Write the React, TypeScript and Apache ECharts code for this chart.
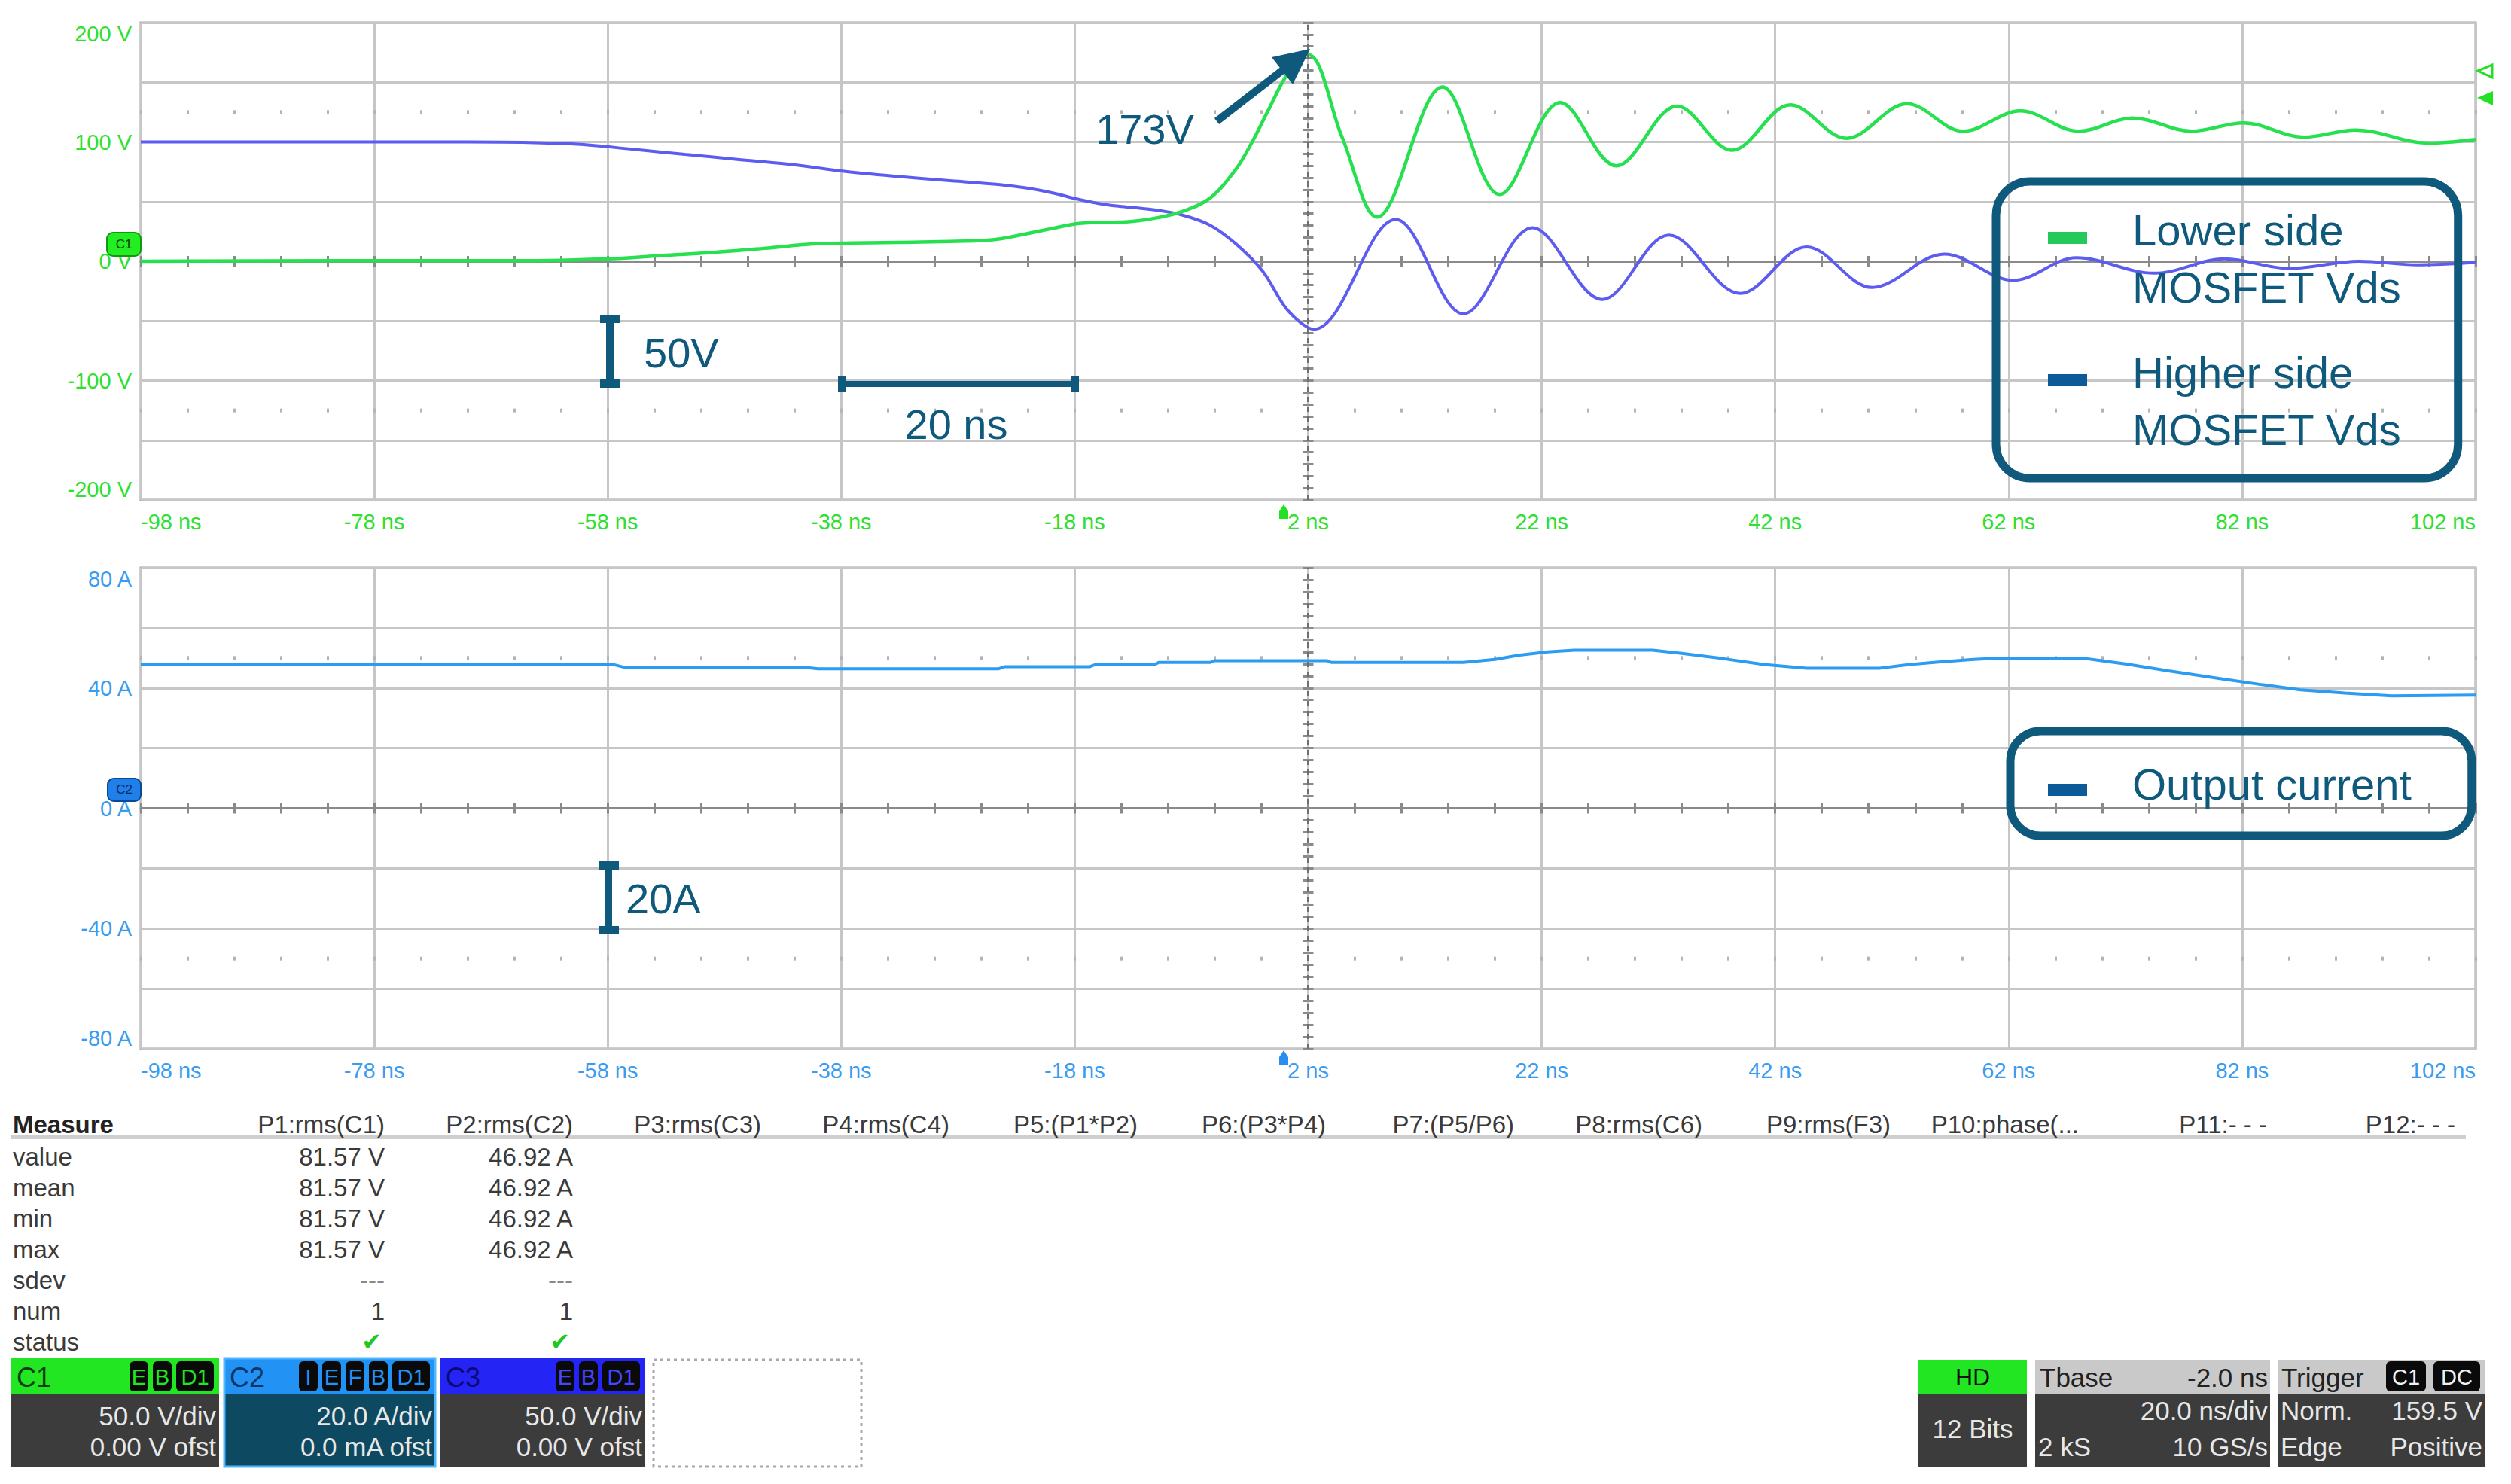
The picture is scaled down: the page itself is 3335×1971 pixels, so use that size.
import React, { useEffect, useRef } from 'react';
import * as echarts from 'echarts';

// ---------- data (time in ns, read from the scope capture) ----------
const T_OFFSET = 98; // the time axis starts at -98 ns
const CENTER_T = 2; // trigger / centre line at 2 ns

const lowSideTimes = [-98, -80, -65, -58, -53.6, -49.1, -44.6, -40.1, -33.4, -26.6, -24.4, -22.2, -19.9, -17.6, -13.2, -10.9, -8.7, -6.4, -4.2, -2.8, -1.5, 0.3, 2, 4.9, 7.9, 13.5, 18.4, 23.6, 28.4, 33.6, 38.3, 43.3, 48.1, 53.3, 58.1, 63, 68, 72.6, 77.7, 82.1, 87.3, 91.7, 98, 102];
const lowSideVolts = [0, 0.5, 0.5, 2, 4.6, 7.3, 10.8, 14.6, 15.8, 17.1, 18.8, 22.9, 27.5, 31.7, 33.3, 36.5, 42, 53, 77, 100, 125, 158, 173, 104, 37, 146, 56, 133, 80, 130, 93, 131, 103, 132, 109, 126, 109, 120, 109, 116, 104, 110, 99, 102];

const highSideTimes = [-98, -80, -70, -64.8, -60.3, -55.8, -51.4, -46.9, -42.4, -37.9, -33.4, -28.9, -24.4, -22.2, -19.9, -17.6, -15.4, -13.2, -10.9, -8.7, -6.4, -4.2, -1.9, 0.3, 2.5, 9.5, 15.3, 21.2, 27.2, 32.9, 39, 44.7, 50.3, 56.5, 62.4, 67.8, 74.5, 80.5, 86, 92, 97, 102];
const highSideVolts = [100, 100, 100, 99.6, 97.9, 93.8, 89.6, 85.4, 81.3, 75.6, 71.3, 67.7, 64.2, 61.5, 57.3, 51.7, 47.5, 45.2, 42.7, 38.5, 30.2, 14.6, -8.3, -41.7, -57, 35, -44, 28, -32, 22, -27, 12, -22, 6, -16, 3, -10, 2, -6, 0, -3, -1];

const currentTimes = [-98, -57.5, -56.5, -41, -40, -24.5, -24, -16.7, -16.3, -11.2, -10.8, -6.4, -6, 3.6, 4, 15.3, 18, 20, 22.5, 24.8, 31.5, 34, 37.5, 41, 44.7, 51, 53, 55.8, 59, 60.6, 68.6, 72, 75.7, 80, 83.7, 87, 90.8, 94.8, 102];
const currentAmps = [47.8, 47.8, 46.8, 46.8, 46.4, 46.4, 47.1, 47.1, 47.7, 47.7, 48.5, 48.5, 49.1, 49.1, 48.5, 48.5, 49.5, 50.9, 52, 52.6, 52.6, 51.5, 49.8, 47.8, 46.6, 46.6, 47.6, 48.6, 49.5, 49.8, 49.8, 48, 45.7, 43.2, 41.1, 39.4, 38.3, 37.4, 37.6];

const seriesNames = ['Lower side MOSFET Vds', 'Higher side MOSFET Vds', 'Output current'];

const measureHeaders = ['P1:rms(C1)', 'P2:rms(C2)', 'P3:rms(C3)', 'P4:rms(C4)', 'P5:(P1*P2)', 'P6:(P3*P4)', 'P7:(P5/P6)', 'P8:rms(C6)', 'P9:rms(F3)', 'P10:phase(...', 'P11:- - -', 'P12:- - -'];
const measureRows = ['value', 'mean', 'min', 'max', 'sdev', 'num', 'status'];
const p1Values = ['81.57 V', '81.57 V', '81.57 V', '81.57 V', '---', '1', '✔'];
const p2Values = ['46.92 A', '46.92 A', '46.92 A', '46.92 A', '---', '1', '✔'];

const channelBoxes = [
  { title: 'C1', badges: ['E', 'B', 'D1'], line1: '50.0 V/div', line2: '0.00 V ofst' },
  { title: 'C2', badges: ['I', 'E', 'F', 'B', 'D1'], line1: '20.0 A/div', line2: '0.0 mA ofst' },
  { title: 'C3', badges: ['E', 'B', 'D1'], line1: '50.0 V/div', line2: '0.00 V ofst' },
];

// ---------- styling ----------
const FONT = 'Liberation Sans, Arial, sans-serif';
const TEAL = '#0f5a7c';
const GREEN_TRACE = '#27e04f';
const GREEN_LABEL = '#2ee030';
const BLUE_TRACE = '#5c5cf0';
const CURRENT_TRACE = '#2c9cf2';
const CURRENT_LABEL = '#3a9cf0';
const GRID_LINE = '#c6c6c6';
const DARK_TICK = '#8a8a8a';

const G1 = { left: 187, top: 30, width: 3101, height: 634 };
const G2 = { left: 187, top: 754, width: 3101, height: 639 };

const toPairs = (ts: number[], vs: number[]) => ts.map((t, i) => [t + T_OFFSET, vs[i]]);

function mainX(gridIndex: number, color: string) {
  return {
    gridIndex, type: 'value', min: 0, max: 200, interval: 20, position: 'bottom',
    axisLine: { show: false, onZero: false }, axisTick: { show: false },
    splitLine: { show: true, lineStyle: { color: GRID_LINE, width: 3 } },
    axisLabel: {
      color, fontSize: 29, fontFamily: FONT, margin: 14, showMinLabel: true, showMaxLabel: true,
      alignMinLabel: 'left', alignMaxLabel: 'right',
      formatter: (v: number) => `${Math.round(v - T_OFFSET)} ns`,
    },
  };
}
function tickX(gridIndex: number, offset: number, opts: any) {
  return {
    gridIndex, type: 'value', min: 0, max: 200, interval: 4, position: 'bottom', offset,
    axisLine: { show: !!opts.line, onZero: false, lineStyle: { color: DARK_TICK, width: 3 } },
    axisTick: { show: true, inside: !!opts.inside, length: opts.len, lineStyle: { color: opts.color, width: 3 } },
    axisLabel: { show: false }, splitLine: { show: false },
  };
}
function mainY(gridIndex: number, min: number, max: number, interval: number, labelStep: number, unit: string, color: string) {
  return {
    gridIndex, type: 'value', min, max, interval, position: 'left',
    axisLine: { show: false, onZero: false }, axisTick: { show: false },
    splitLine: { show: true, lineStyle: { color: GRID_LINE, width: 3 } },
    axisLabel: {
      color, fontSize: 29, fontFamily: FONT, margin: 12, showMinLabel: true, showMaxLabel: true,
      verticalAlignMaxLabel: 'top', verticalAlignMinLabel: 'bottom',
      formatter: (v: number) => (Math.round(v) % labelStep === 0 ? `${Math.round(v)} ${unit}` : ''),
    },
  };
}
function tickY(gridIndex: number, offset: number, min: number, max: number, interval: number, inside: boolean) {
  return {
    gridIndex, type: 'value', min, max, interval, position: 'left', offset,
    axisLine: { show: false, onZero: false },
    axisTick: { show: true, inside, length: 7, lineStyle: { color: DARK_TICK, width: 3 } },
    axisLabel: { show: false }, splitLine: { show: false },
  };
}

const centerMarkLine = {
  silent: true, symbol: ['none', 'none'], label: { show: false },
  lineStyle: { color: '#6e6e6e', width: 3, type: [7, 6] },
  data: [{ xAxis: CENTER_T + T_OFFSET }],
};

// ---------- graphic helpers ----------
function txt(x: number, y: number, t: string, size: number, color: string, align = 'left', weight = 'normal', family = FONT) {
  return { type: 'text', x, y, z: 60, silent: true, style: { text: t, fill: color, fontSize: size, fontFamily: family, fontWeight: weight, align, verticalAlign: 'middle' } };
}
function box(x: number, y: number, w: number, h: number, fill: string, o: any = {}) {
  return { type: 'rect', z: o.z ?? 55, silent: true, shape: { x, y, width: w, height: h, r: o.r || 0 }, style: { fill, stroke: o.stroke || null, lineWidth: o.lw || 0, lineDash: o.dash || null } };
}
function badges(list: string[], right: number, top: number, color: string) {
  const out: any[] = [];
  let x = right;
  for (let i = list.length - 1; i >= 0; i--) {
    const w = list[i].length > 1 ? 50 : 25;
    x -= w;
    out.push(box(x, top, w, 40, '#0a0a0a', { r: 6, z: 57 }));
    out.push(txt(x + w / 2, top + 21, list[i], 29, color, 'center'));
    x -= 6;
  }
  return out;
}

function buildGraphics() {
  const els: any[] = [];
  // annotations
  els.push(txt(1455, 171, '173V', 56, TEAL));
  els.push({ type: 'line', z: 60, silent: true, shape: { x1: 1616, y1: 161, x2: 1705, y2: 92 }, style: { stroke: TEAL, lineWidth: 10 } });
  els.push({ type: 'polygon', z: 60, silent: true, shape: { points: [[1740, 65], [1689, 76], [1717, 112]] }, style: { fill: TEAL } });
  els.push(box(805, 421, 10, 92, TEAL, { z: 60 }), box(797, 418, 26, 11, TEAL, { z: 60 }), box(797, 504, 26, 11, TEAL, { z: 60 }));
  els.push(txt(855, 468, '50V', 56, TEAL));
  els.push(box(1117, 506, 311, 8, TEAL, { z: 60 }), box(1113, 499, 10, 22, TEAL, { z: 60 }), box(1423, 499, 10, 22, TEAL, { z: 60 }));
  els.push(txt(1270, 563, '20 ns', 56, TEAL, 'center'));
  els.push(box(804, 1147, 9, 92, TEAL, { z: 60 }), box(796, 1144, 26, 11, TEAL, { z: 60 }), box(796, 1230, 26, 11, TEAL, { z: 60 }));
  els.push(txt(831, 1193, '20A', 56, TEAL));

  // channel markers on the plots
  els.push(box(142, 309, 45, 31, '#22ee22', { r: 8, stroke: '#119911', lw: 2, z: 58 }));
  els.push(txt(164.5, 324, 'C1', 17, '#0a3a0a', 'center'));
  els.push(box(143, 1034, 44, 30, '#1e80e8', { r: 8, stroke: '#0a4a90', lw: 2, z: 58 }));
  els.push(txt(165, 1048, 'C2', 17, '#0a2a5a', 'center'));
  // trigger position markers
  els.push({ type: 'polygon', z: 60, silent: true, shape: { points: [[1699, 689], [1699, 679], [1705, 670], [1711, 679], [1711, 689]] }, style: { fill: '#22e022' } });
  els.push({ type: 'polygon', z: 60, silent: true, shape: { points: [[1699, 1414], [1699, 1404], [1705, 1395], [1711, 1404], [1711, 1414]] }, style: { fill: '#2a8ef0' } });
  // trigger level markers at right edge
  els.push({ type: 'polygon', z: 60, silent: true, shape: { points: [[3291, 94], [3310, 86], [3310, 103]] }, style: { fill: '#ffffff', stroke: '#22e022', lineWidth: 3 } });
  els.push({ type: 'polygon', z: 60, silent: true, shape: { points: [[3290, 130], [3311, 121], [3311, 140]] }, style: { fill: '#22e022' } });

  // measure table
  const TABLE_GRAY = '#3a3a3a';
  els.push(txt(17, 1493, 'Measure', 33, '#222', 'left', 'bold'));
  measureHeaders.forEach((h, k) => els.push(txt(511 + 250 * k, 1493, h, 33, TABLE_GRAY, 'right')));
  els.push(box(15, 1508, 3260, 5, '#cfcfcf'));
  measureRows.forEach((r, i) => {
    const y = 1536 + 41 * i;
    els.push(txt(17, y, r, 33, TABLE_GRAY));
    [p1Values, p2Values].forEach((vals, c) => {
      const v = vals[i];
      const right = 511 + 250 * c;
      if (v === '✔') els.push(txt(right - 4, y, v, 32, '#22c822', 'right', 'normal', 'DejaVu Sans'));
      else els.push(txt(right, y, v, 33, v === '---' ? '#888' : TABLE_GRAY, 'right'));
    });
  });

  // channel descriptor boxes
  const chanStyle = [
    { x: 15, w: 276, head: '#22e622', titleColor: '#0d3d0d', badge: '#22e622', body: '#3c3c3c', border: null },
    { x: 298, w: 280, head: '#2293f5', titleColor: '#0b3566', badge: '#2293f5', body: '#0d4a62', border: '#4db8ff' },
    { x: 585, w: 272, head: '#2424f5', titleColor: '#0a0a70', badge: '#4646ff', body: '#3c3c3c', border: null },
  ];
  channelBoxes.forEach((c, i) => {
    const s = chanStyle[i];
    els.push(box(s.x, 1804, s.w, 47, s.head));
    els.push(box(s.x, 1851, s.w, 97, s.body));
    if (s.border) els.push(box(s.x, 1804, s.w, 144, 'none', { stroke: s.border, lw: 3, z: 58 }));
    els.push(txt(s.x + 7, 1829, c.title, 36, s.titleColor));
    els.push(...badges(c.badges, s.x + s.w - 7, 1808, s.badge));
    els.push(txt(s.x + s.w - 4, 1880, c.line1, 35, '#e8e8e8', 'right'));
    els.push(txt(s.x + s.w - 4, 1921, c.line2, 35, '#e8e8e8', 'right'));
  });
  els.push(box(868, 1806, 276, 142, 'none', { stroke: '#a8a8a8', lw: 3, dash: [4, 5] }));

  // acquisition boxes
  els.push(box(2548, 1806, 144, 45, '#22e622'));
  els.push(box(2548, 1851, 144, 97, '#3c3c3c'));
  els.push(txt(2620, 1829, 'HD', 32, '#111', 'center'));
  els.push(txt(2620, 1897, '12 Bits', 35, '#e8e8e8', 'center'));

  els.push(box(2703, 1806, 312, 45, '#c9c9c9'));
  els.push(box(2703, 1851, 312, 97, '#3c3c3c'));
  els.push(txt(2709, 1829, 'Tbase', 35, '#222'));
  els.push(txt(3012, 1829, '-2.0 ns', 35, '#222', 'right'));
  els.push(txt(3012, 1873, '20.0 ns/div', 35, '#e8e8e8', 'right'));
  els.push(txt(2707, 1921, '2 kS', 35, '#e8e8e8'));
  els.push(txt(3012, 1921, '10 GS/s', 35, '#e8e8e8', 'right'));

  els.push(box(3025, 1806, 275, 45, '#c9c9c9'));
  els.push(box(3025, 1851, 275, 97, '#3c3c3c'));
  els.push(txt(3030, 1829, 'Trigger', 35, '#222'));
  els.push(box(3169, 1808, 53, 40, '#0a0a0a', { r: 6, z: 57 }));
  els.push(txt(3195.5, 1829, 'C1', 29, '#f0f0f0', 'center'));
  els.push(box(3232, 1808, 62, 40, '#0a0a0a', { r: 6, z: 57 }));
  els.push(txt(3263, 1829, 'DC', 29, '#f0f0f0', 'center'));
  els.push(txt(3029, 1873, 'Norm.', 35, '#e8e8e8'));
  els.push(txt(3297, 1873, '159.5 V', 35, '#e8e8e8', 'right'));
  els.push(txt(3029, 1921, 'Edge', 35, '#e8e8e8'));
  els.push(txt(3297, 1921, 'Positive', 35, '#e8e8e8', 'right'));
  return els;
}

function buildOption() {
  const legendText = { color: TEAL, fontSize: 58, lineHeight: 76, fontFamily: FONT, padding: [0, 0, 0, 55] };
  return {
    animation: false,
    backgroundColor: '#ffffff',
    grid: [
      { ...G1, show: true, borderColor: '#a2a2a2', borderWidth: 3, backgroundColor: 'rgba(0,0,0,0)', containLabel: false, outerBoundsMode: 'none' },
      { ...G2, show: true, borderColor: '#a2a2a2', borderWidth: 3, backgroundColor: 'rgba(0,0,0,0)', containLabel: false, outerBoundsMode: 'none' },
    ],
    xAxis: [
      mainX(0, GREEN_LABEL),
      tickX(0, -(G1.height * 0.8125) - 2.5, { len: 5, color: '#b4b4b4' }),
      tickX(0, -(G1.height * 0.1875) - 2.5, { len: 5, color: '#b4b4b4' }),
      tickX(0, -G1.height / 2, { len: 7, color: DARK_TICK, line: true }),
      tickX(0, -G1.height / 2, { len: 7, color: DARK_TICK, inside: true }),
      mainX(1, CURRENT_LABEL),
      tickX(1, -(G2.height * 0.8125) - 2.5, { len: 5, color: '#b4b4b4' }),
      tickX(1, -(G2.height * 0.1875) - 2.5, { len: 5, color: '#b4b4b4' }),
      tickX(1, -G2.height / 2, { len: 7, color: DARK_TICK, line: true }),
      tickX(1, -G2.height / 2, { len: 7, color: DARK_TICK, inside: true }),
    ],
    yAxis: [
      mainY(0, -200, 200, 50, 100, 'V', GREEN_LABEL),
      tickY(0, -G1.width / 2, -200, 200, 10, false),
      tickY(0, -G1.width / 2, -200, 200, 10, true),
      mainY(1, -80, 80, 20, 40, 'A', CURRENT_LABEL),
      tickY(1, -G2.width / 2, -80, 80, 4, false),
      tickY(1, -G2.width / 2, -80, 80, 4, true),
    ],
    legend: [
      {
        orient: 'vertical', left: 2651, top: 241, padding: [26, 75, 27, 69], itemGap: 37,
        itemWidth: 52, itemHeight: 70, icon: 'path://M0,0L52,0L52,16L0,16Z M0,70L52,70L52,70.01L0,70.01Z',
        borderColor: TEAL, borderWidth: 11, borderRadius: 45, backgroundColor: 'rgba(0,0,0,0)',
        selectedMode: false, itemStyle: { borderWidth: 0 }, textStyle: legendText,
        formatter: (name: string) => name.replace(' MOSFET', '\nMOSFET'),
        data: [
          { name: seriesNames[0], itemStyle: { color: '#23c95a', borderWidth: 0 } },
          { name: seriesNames[1], itemStyle: { color: '#0c5a98', borderWidth: 0 } },
        ],
      },
      {
        orient: 'vertical', left: 2670, top: 971, padding: [32, 80, 31, 50],
        itemWidth: 52, itemHeight: 32, icon: 'path://M0,0L52,0L52,0.01L0,0.01Z M0,16L52,16L52,32L0,32Z',
        borderColor: TEAL, borderWidth: 11, borderRadius: 40, backgroundColor: 'rgba(0,0,0,0)',
        selectedMode: false, itemStyle: { borderWidth: 0 }, textStyle: legendText,
        data: [{ name: seriesNames[2], itemStyle: { color: '#0c5a98', borderWidth: 0 } }],
      },
    ],
    series: [
      {
        name: seriesNames[1], type: 'line', xAxisIndex: 0, yAxisIndex: 0, data: toPairs(highSideTimes, highSideVolts),
        symbol: 'none', showSymbol: false, smooth: 0.35, z: 3,
        lineStyle: { color: BLUE_TRACE, width: 4 }, itemStyle: { color: BLUE_TRACE },
        markLine: centerMarkLine,
      },
      {
        name: seriesNames[0], type: 'line', xAxisIndex: 0, yAxisIndex: 0, data: toPairs(lowSideTimes, lowSideVolts),
        symbol: 'none', showSymbol: false, smooth: 0.35, z: 4,
        lineStyle: { color: GREEN_TRACE, width: 4.5 }, itemStyle: { color: GREEN_TRACE },
      },
      {
        name: seriesNames[2], type: 'line', xAxisIndex: 5, yAxisIndex: 3, data: toPairs(currentTimes, currentAmps),
        symbol: 'none', showSymbol: false, smooth: false, z: 3,
        lineStyle: { color: CURRENT_TRACE, width: 4 }, itemStyle: { color: CURRENT_TRACE },
        markLine: centerMarkLine,
      },
    ],
    graphic: { elements: buildGraphics() },
  };
}

export default function App() {
  const ref = useRef<HTMLDivElement>(null);
  useEffect(() => {
    document.body.style.margin = '0';
    document.body.style.overflow = 'hidden';
    const chart = echarts.init(ref.current as HTMLDivElement, null, { renderer: 'svg', width: 3335, height: 1971 });
    chart.setOption(buildOption() as any);
    return () => chart.dispose();
  }, []);
  return <div ref={ref} style={{ position: 'absolute', left: 0, top: 0, width: 3335, height: 1971, background: '#ffffff' }} />;
}
